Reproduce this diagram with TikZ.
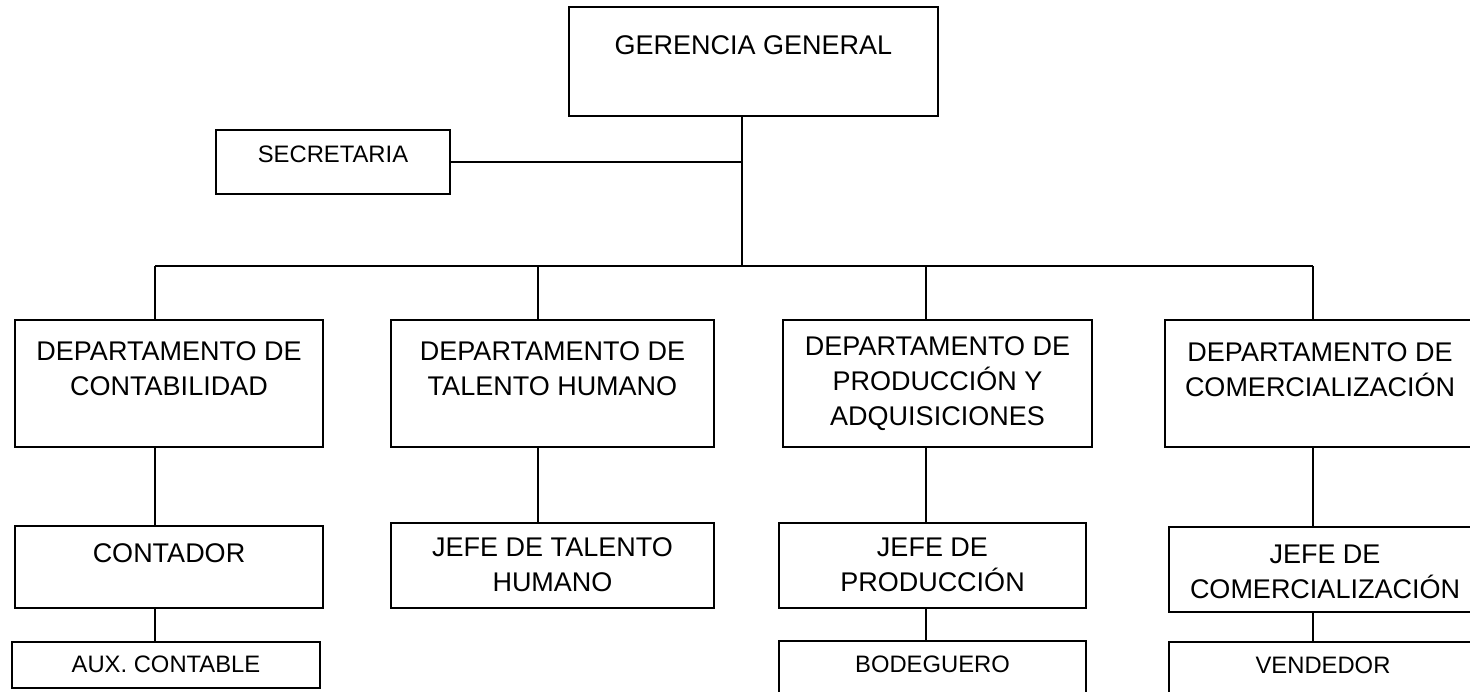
\documentclass[tikz,border=0pt]{standalone}
\usepackage{fontspec}
\setmainfont{Liberation Sans}
\usetikzlibrary{positioning}

\tikzset{
  unit/.style={draw, line width=1.8pt, inner sep=0pt},
  lbl/.style={inner sep=0pt, align=center, font=\fontsize{27}{35}\selectfont},
  lblsmall/.style={lbl, font=\fontsize{23.8}{30}\selectfont},
  link/.style={line width=1.8pt}
}

\begin{document}
\begin{tikzpicture}[x=1pt, y=-1pt]
    \useasboundingbox (0,0) rectangle (1470,691);

    % Draw boxes
    \node[unit, minimum width=369pt, minimum height=109pt] (ger) at (753.5,61.5) {};
    \node[unit, minimum width=234pt, minimum height=64pt] (sec) at (333,162) {};
    \node[unit, minimum width=308pt, minimum height=127pt] (dcont) at (169,383.5) {};
    \node[unit, minimum width=323pt, minimum height=127pt] (dtal) at (552.5,383.5) {};
    \node[unit, minimum width=309pt, minimum height=127pt] (dprod) at (937.5,383.5) {};
    \node[unit, minimum width=310pt, minimum height=127pt] (dcom) at (1320,383.5) {};
    \node[unit, minimum width=308pt, minimum height=82pt] (jcont) at (169,567) {};
    \node[unit, minimum width=323pt, minimum height=85pt] (jtal) at (552.5,565.5) {};
    \node[unit, minimum width=307pt, minimum height=85pt] (jprod) at (932.5,565.5) {};
    \node[unit, minimum width=312pt, minimum height=85pt] (jcom) at (1325,569.5) {};
    \node[unit, minimum width=308pt, minimum height=46pt] (aux) at (166,665) {};
    \node[unit, minimum width=307pt, minimum height=58pt] (bod) at (932.5,670) {};
    \node[unit, minimum width=308pt, minimum height=58pt] (ven) at (1323,671) {};

    % Labels
    \node[lbl, below=29pt of ger.north] (gert) {GERENCIA GENERAL};
    \node[lblsmall, below=17pt of sec.north] (sect) {SECRETARIA};
    \node[lbl, below=22pt of dcont.north] (dcontt) {DEPARTAMENTO DE\\CONTABILIDAD};
    \node[lbl, below=22pt of dtal.north] (dtalt) {DEPARTAMENTO DE\\TALENTO HUMANO};
    \node[lbl, below=17pt of dprod.north] (dprodt) {DEPARTAMENTO DE\\PRODUCCIÓN Y\\ADQUISICIONES};
    \node[lbl, below=23pt of dcom.north] (dcomt) {DEPARTAMENTO DE\\COMERCIALIZACIÓN};
    \node[lbl, below=18pt of jcont.north] (jcontt) {CONTADOR};
    \node[lbl, below=15pt of jtal.north] (jtalt) {JEFE DE TALENTO\\HUMANO};
    \node[lbl, below=16pt of jprod.north] (jprodt) {JEFE DE\\PRODUCCIÓN};
    \node[lbl, below=19pt of jcom.north] (jcomt) {JEFE DE\\COMERCIALIZACIÓN};
    \node[lblsmall, below=15pt of aux.north] (auxt) {AUX. CONTABLE};
    \node[lblsmall, below=16pt of bod.north] (bodt) {BODEGUERO};
    \node[lblsmall, below=16pt of ven.north] (vent) {VENDEDOR};

    % Bus points
    \coordinate (mid) at (742,266);
    \coordinate (col1) at (155,266);
    \coordinate (col2) at (538,266);
    \coordinate (col3) at (926,266);
    \coordinate (col4) at (1313,266);

    % Draw connectors
    \draw[link] (mid |- ger.south) -- (mid);
    \draw[link] (sec.east) -- (sec.east -| mid);
    \draw[link] (col1) -- (col4);
    \draw[link] (col1) -- (col1 |- dcont.north);
    \draw[link] (col2) -- (col2 |- dtal.north);
    \draw[link] (col3) -- (col3 |- dprod.north);
    \draw[link] (col4) -- (col4 |- dcom.north);
    \draw[link] (col1 |- dcont.south) -- (col1 |- jcont.north);
    \draw[link] (col2 |- dtal.south) -- (col2 |- jtal.north);
    \draw[link] (col3 |- dprod.south) -- (col3 |- jprod.north);
    \draw[link] (col4 |- dcom.south) -- (col4 |- jcom.north);
    \draw[link] (col1 |- jcont.south) -- (col1 |- aux.north);
    \draw[link] (col3 |- jprod.south) -- (col3 |- bod.north);
    \draw[link] (col4 |- jcom.south) -- (col4 |- ven.north);
\end{tikzpicture}
\end{document}
